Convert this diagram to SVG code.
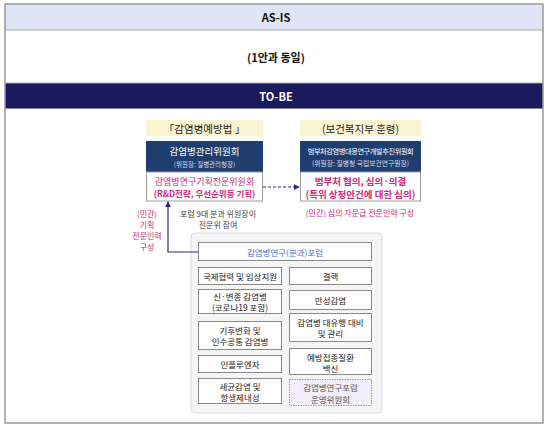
<svg xmlns="http://www.w3.org/2000/svg" width="552" height="432" viewBox="0 0 552 432">
<defs>
<marker id="ah" viewBox="0 0 8 8" refX="7" refY="4" markerWidth="6" markerHeight="6" orient="auto-start-reverse" markerUnits="userSpaceOnUse">
<path d="M0,0 L8,4 L0,8 z" fill="#2b2a7a"/>
</marker>
<style>
text{font-family:"Noto Sans CJK KR","Noto Sans",sans-serif;text-anchor:middle;dominant-baseline:central}
.hd{font-size:11px;font-weight:bold;fill:#111}
.yel{fill:#fbf4d2}
.navy{fill:#1f3e6e}
.wbox{fill:#fff;stroke:#9a9a9a;stroke-width:1}
.mg{fill:#cc2a80}
.gb{fill:#fff;stroke:#8a8a8a;stroke-width:1}
.t9{font-size:8.5px;fill:#222}
</style>
</defs>
<rect x="0" y="0" width="552" height="432" fill="#fff"/>
<g id="frame">
<rect x="5" y="4" width="538" height="26" fill="#dfe5f6"/>
<rect x="5" y="83" width="538" height="25" fill="#1c1a5e"/>
<line x1="5" y1="30" x2="543" y2="30" stroke="#aaa" stroke-width="1"/>
<line x1="5" y1="83" x2="543" y2="83" stroke="#aaa" stroke-width="1"/>
<line x1="5" y1="108.5" x2="543" y2="108.5" stroke="#888" stroke-width="1"/>
<rect x="5" y="4" width="538" height="419" fill="none" stroke="#999" stroke-width="1.5"/>
<text class="hd" x="276" y="17">AS-IS</text>
<text class="hd" x="276" y="57">(1안과 동일)</text>
<text class="hd" x="276" y="96" style="fill:#fff">TO-BE</text>
</g>
<g id="law">
<rect class="yel" x="146" y="120" width="117" height="16"/>
<text x="204.5" y="128" style="font-size:10.5px;fill:#222">「감염병예방법 」</text>
</g>
<g id="kcdc-committee">
<rect class="navy" x="146" y="141" width="117" height="31"/>
<text x="204.5" y="151" style="font-size:9.5px;fill:#fff">감염병관리위원회</text>
<text x="204.5" y="164" style="font-size:6.5px;fill:#dde">(위원장: 질병관리청장)</text>
<rect class="wbox" x="146.5" y="172" width="116" height="29"/>
<text x="204.5" y="181" class="mg" style="font-size:9px">감염병연구기획전문위원회</text>
<text x="204.5" y="193" class="mg" style="font-size:8.5px;font-weight:bold">(R&amp;D전략, 우선순위등 기획)</text>
</g>
<g id="directive">
<rect class="yel" x="300" y="120" width="121" height="16"/>
<text x="360.5" y="128" style="font-size:10.5px;fill:#222">(보건복지부 훈령)</text>
</g>
<g id="pan-committee">
<rect class="navy" x="300" y="141" width="121" height="31"/>
<text x="360.5" y="151" style="font-size:7.2px;fill:#fff;letter-spacing:-0.4px">범부처감염병대응연구개발추진위원회</text>
<text x="360.5" y="163" style="font-size:6.8px;fill:#dde">(위원장: 질병청 국립보건연구원장)</text>
<rect class="wbox" x="300.5" y="172" width="120" height="29"/>
<text x="360.5" y="181" class="mg" style="font-size:9.5px;font-weight:bold">범부처 협의, 심의·의결</text>
<text x="360.5" y="194" class="mg" style="font-size:9.5px;font-weight:bold">(특위 상정안건에 대한 심의)</text>
</g>
<g id="notes">
<text x="360" y="212" class="mg" style="font-size:8px">(민간) 심의 자문급 전문인력 구성</text>
<text x="147" y="213" class="mg" style="font-size:8px">(민간)</text>
<text x="147" y="224" class="mg" style="font-size:8px">기획</text>
<text x="147" y="235" class="mg" style="font-size:8px">전문인력</text>
<text x="147" y="246" class="mg" style="font-size:8px">구성</text>
<text x="218" y="213" style="font-size:8px;fill:#444">포럼 9대 분과 위원장이</text>
<text x="218" y="224" style="font-size:8px;fill:#444">전문위 참여</text>
</g>
<g id="forum-panel">
<rect x="191" y="233" width="191" height="180" rx="4" fill="#f5f5f5" stroke="#ddd" stroke-width="1"/>
</g>
<g id="forum">
<rect class="gb" x="198.5" y="242.5" width="173" height="18"/>
<text x="285" y="251.5" style="font-size:8.5px;fill:#3b73c9">감염병연구(분과)포럼</text>
</g>
<g id="f1"><rect class="gb" x="198.5" y="267.5" width="83" height="17"/><text class="t9" x="240" y="276">국제협력 및 임상지원</text></g>
<g id="f2"><rect class="gb" x="198.5" y="289.5" width="83" height="24"/><text class="t9" x="240" y="295.5">신·변종 감염병</text><text class="t9" x="240" y="307">(코로나19 포함)</text></g>
<g id="f3"><rect class="gb" x="198.5" y="321.5" width="83" height="28"/><text class="t9" x="240" y="330">기후변화 및</text><text class="t9" x="240" y="341">인수공통 감염병</text></g>
<g id="f4"><rect class="gb" x="198.5" y="355.5" width="83" height="17"/><text class="t9" x="240" y="364">인플루엔자</text></g>
<g id="f5"><rect class="gb" x="198.5" y="378.5" width="83" height="25"/><text class="t9" x="240" y="385.5">세균감염 및</text><text class="t9" x="240" y="397">항생제내성</text></g>
<g id="f6"><rect class="gb" x="289.5" y="267.5" width="82" height="17"/><text class="t9" x="330.5" y="276">결핵</text></g>
<g id="f7"><rect class="gb" x="289.5" y="290.5" width="82" height="19"/><text class="t9" x="330.5" y="300">만성감염</text></g>
<g id="f8"><rect class="gb" x="289.5" y="313.5" width="82" height="28"/><text class="t9" x="330.5" y="322">감염병 대유행 대비</text><text class="t9" x="330.5" y="333">및 관리</text></g>
<g id="f9"><rect class="gb" x="289.5" y="348.5" width="82" height="26"/><text class="t9" x="330.5" y="356.5">예방접종질환</text><text class="t9" x="330.5" y="367.5">백신</text></g>
<g id="f10"><rect x="289.5" y="379.5" width="82" height="26" fill="#f3eefc" stroke="#9a9aaa" stroke-width="1" stroke-dasharray="1.5 1"/><text x="330.5" y="387" style="font-size:8.5px;fill:#555">감염병연구포럼</text><text x="330.5" y="398.5" style="font-size:8.5px;fill:#555">운영위원회</text></g>
<g id="connectors" fill="none" stroke="#2b2a7a" stroke-width="1.2">
<line x1="263" y1="187" x2="299" y2="187" stroke-dasharray="3 2" marker-end="url(#ah)"/>
<polyline points="198,252 168,252 168,202" marker-end="url(#ah)"/>
</g>
</svg>
